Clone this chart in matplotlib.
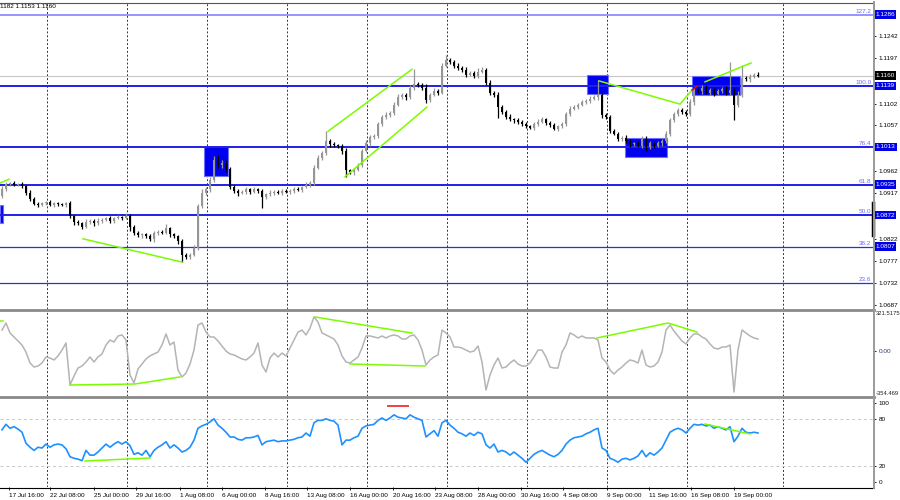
import numpy as np
import matplotlib.pyplot as plt
from matplotlib.lines import Line2D
from matplotlib.patches import Rectangle

plt.rcParams['font.family'] = ['Liberation Sans', 'DejaVu Sans']

# H4 candles, prices in pips above 1.0000 (938 -> 1.0938), open = previous close
first_open = 912
closes = [925, 936, 938, 935, 936, 932, 918, 905, 895, 893,
          896, 898, 893, 896, 894, 893, 896, 870, 858, 855,
          848, 858, 860, 855, 860, 862, 866, 860, 866, 868,
          866, 870, 848, 835, 830, 832, 828, 822, 834, 838,
          836, 845, 832, 828, 818, 790, 786, 790, 805, 890,
          918, 925, 945, 985, 975, 980, 968, 930, 922, 918,
          920, 925, 920, 925, 922, 910, 915, 918, 920, 918,
          922, 920, 922, 925, 924, 930, 935, 938, 970, 990,
          1000, 1025, 1018, 1016, 1014, 1005, 965, 960, 966, 975,
          1005, 1020, 1033, 1035, 1060, 1075, 1078, 1082, 1100, 1115,
          1120, 1115, 1135, 1142, 1140, 1135, 1110, 1120, 1128, 1125,
          1180, 1192, 1188, 1180, 1175, 1172, 1162, 1165, 1160, 1168,
          1172, 1145, 1125, 1120, 1095, 1085, 1075, 1070, 1068, 1064,
          1060, 1055, 1052, 1060, 1065, 1070, 1062, 1058, 1050, 1055,
          1060, 1080, 1092, 1096, 1100, 1105, 1108, 1112, 1115, 1120,
          1078, 1075, 1045, 1040, 1030, 1032, 1025, 1018, 1020, 1015,
          1030, 1012, 1020, 1015, 1020, 1025, 1040, 1068, 1080, 1088,
          1085, 1080, 1105, 1130, 1128, 1135, 1125, 1130, 1122, 1128,
          1132, 1125, 1130, 1100, 1120, 1155, 1152, 1158, 1162, 1160]
up_wick = [6, 4, 3, 5, 3, 4, 3, 5, 4, 3,
           4, 3, 5, 3, 4, 3, 4, 5, 3, 4,
           3, 5, 4, 3, 6, 4, 3, 5, 3, 4,
           3, 6, 4, 3, 5, 4, 3, 4, 5, 3,
           4, 8, 3, 4, 3, 5, 4, 3, 6, 5,
           8, 4, 6, 8, 10, 5, 6, 4, 5, 3,
           4, 5, 3, 4, 3, 4, 3, 5, 3, 4,
           3, 4, 3, 5, 4, 3, 5, 4, 6, 5,
           5, 20, 4, 5, 3, 4, 5, 3, 4, 5,
           4, 6, 5, 4, 5, 4, 6, 4, 5, 6,
           4, 5, 5, 31, 5, 4, 8, 5, 6, 4,
           6, 10, 5, 4, 5, 4, 6, 5, 4, 8,
           5, 4, 6, 4, 6, 5, 4, 5, 3, 4,
           4, 5, 3, 4, 5, 4, 3, 5, 4, 3,
           5, 4, 5, 4, 3, 5, 4, 5, 4, 31,
           5, 4, 3, 5, 4, 3, 5, 4, 3, 4,
           6, 5, 4, 3, 5, 4, 6, 5, 4, 5,
           5, 4, 6, 5, 4, 5, 6, 4, 5, 4,
           5, 6, 58, 4, 8, 27, 5, 6, 4, 5]
dn_wick = [5, 4, 3, 4, 3, 4, 5, 4, 3, 4,
           3, 4, 3, 5, 4, 3, 4, 5, 6, 4,
           5, 3, 4, 5, 3, 4, 3, 4, 5, 3,
           4, 3, 8, 5, 4, 5, 3, 4, 5, 4,
           3, 4, 5, 4, 6, 15, 5, 4, 3, 6,
           4, 5, 6, 4, 5, 6, 8, 5, 4, 6,
           3, 4, 5, 3, 4, 23, 4, 3, 4, 3,
           4, 3, 5, 4, 3, 4, 3, 5, 4, 3,
           4, 3, 5, 4, 3, 6, 15, 4, 5, 3,
           4, 3, 5, 4, 3, 4, 5, 3, 4, 3,
           4, 5, 3, 4, 4, 5, 6, 4, 3, 5,
           4, 3, 5, 4, 3, 5, 4, 3, 5, 4,
           3, 5, 6, 4, 23, 5, 4, 3, 5, 4,
           5, 4, 3, 5, 4, 3, 5, 4, 3, 4,
           4, 5, 3, 4, 5, 3, 4, 4, 3, 5,
           6, 5, 4, 3, 5, 6, 4, 5, 4, 3,
           5, 8, 4, 5, 3, 6, 4, 5, 3, 4,
           5, 4, 3, 5, 4, 6, 4, 5, 4, 3,
           4, 5, 6, 32, 5, 4, 3, 5, 4, 3]

cci = [170, 226, 147, 115, 83, 51, -5, -92, -124, -116,
       -92, -44, -52, -68, -36, 11, 67, -267, -196, -132,
       -116, -84, -44, -84, -44, -20, 51, 91, 75, 123,
       131, 91, -188, -251, -140, -100, -60, -36, -20, -5,
       51, 139, 51, 75, -148, -203, -172, -100, 11, 210,
       226, 154, 115, 115, 83, 43, 3, -20, -28, -44,
       -60, -68, -44, -13, 67, -108, -164, -52, -13, -44,
       -13, -36, 27, 91, 154, 170, 131, 186, 274, 234,
       147, 131, 115, 99, 51, -36, -84, -92, -68, -44,
       27, 123, 123, 115, 107, 123, 107, 123, 131, 123,
       99, 99, 123, 131, 91, 11, -108, -68, -44, -28,
       170, 147, 115, 35, 35, 27, 11, -5, 3, 43,
       -84, -307, -188, -108, -52, -132, -124, -92, -68, -100,
       -116, -116, -92, -44, 11, 11, -44, -124, -132, -132,
       -5, 51, 147, 131, 107, 123, 107, 107, 107, 91,
       -52, -84, -148, -180, -148, -124, -92, -68, -76, -92,
       11, -108, -124, -116, -84, -5, 170, 210, 162, 123,
       83, 59, 107, 139, 139, 115, 99, 59, 27, 19,
       35, 35, 51, -323, 11, 170, 147, 123, 107, 99]

rsi = [66, 73, 68, 70, 67, 63, 49, 44, 40, 44,
       43, 48, 44, 47, 48, 47, 42, 32, 30, 29,
       27, 40, 34, 34, 38, 43, 48, 44, 48, 51,
       48, 51, 46, 35, 37, 34, 40, 32, 40, 44,
       47, 51, 43, 47, 43, 38, 40, 44, 53, 68,
       71, 73, 76, 80, 72, 68, 63, 57, 57, 54,
       53, 56, 56, 57, 59, 47, 51, 52, 53, 51,
       52, 52, 53, 54, 56, 57, 62, 58, 75, 78,
       78, 80, 78, 77, 72, 47, 53, 53, 56, 58,
       68, 71, 72, 73, 78, 81, 78, 81, 85, 82,
       81, 80, 85, 82, 80, 78, 57, 61, 65, 58,
       75, 78, 72, 68, 63, 61, 58, 62, 59, 63,
       61, 47, 43, 48, 38, 40, 38, 34, 38, 34,
       30, 25, 30, 35, 38, 40, 37, 34, 32, 35,
       40, 48, 53, 56, 57, 58, 61, 63, 66, 68,
       43, 40, 30, 28, 25, 29, 30, 28, 30, 33,
       40, 32, 37, 34, 38, 43, 53, 63, 66, 68,
       66, 62, 68, 73, 72, 73, 71, 72, 68, 70,
       68, 66, 70, 51, 58, 68, 63, 62, 63, 62]

fib_levels = [1.1286, 1.1139, 1.1013, 1.0935, 1.0872, 1.0807, 1.0732]
fib_names = ['127.2', '100.0', '76.4', '61.8', '50.0', '38.2', '23.6']
boxed_levels = [1.1286, 1.1139, 1.1013, 1.0935, 1.0872, 1.0807]
price_ticks = [1.1242, 1.1197, 1.1102, 1.1057, 1.0962, 1.0917,
               1.0822, 1.0777, 1.0732, 1.0687]
last_price = 1.1160
header = '1182 1.1153 1.1160'

date_labels = ['17 Jul 16:00', '22 Jul 08:00', '25 Jul 00:00', '29 Jul 16:00',
               '1 Aug 08:00', '6 Aug 00:00', '8 Aug 16:00', '13 Aug 08:00',
               '16 Aug 00:00', '20 Aug 16:00', '23 Aug 08:00', '28 Aug 00:00',
               '30 Aug 16:00', '4 Sep 08:00', '9 Sep 00:00', '11 Sep 16:00',
               '16 Sep 08:00', '19 Sep 00:00']
date_bars = [1.75, 12, 23, 33.5, 44.5, 55, 65.75, 76.25, 87, 97.75,
             108.25, 119, 129.75, 140.25, 151.25, 161.75, 172.25, 183]
grid_bars = [11.2, 31.2, 51.2, 71.2, 91.2, 111.2, 131.2, 151.2, 171.2, 195.2]

# blue zones: (bar from, bar to, low, high)
zones = [(-0.5, 0.25, 1.0856, 1.0893),
         (50.5, 56.5, 1.0953, 1.1013),
         (146.25, 151.5, 1.1122, 1.1161),
         (155.75, 166.25, 1.0992, 1.1031),
         (172.5, 184.5, 1.1120, 1.1159)]

# green divergence / channel lines on price
price_lines = [([-0.5, 1.75], [1.0938, 1.0946]),
               ([20.25, 45.0], [1.0823, 1.0775]),
               ([81.5, 102.5], [1.1045, 1.1173]),
               ([85.75, 106.25], [1.0951, 1.1095]),
               ([149.25, 169.5, 172.5], [1.1149, 1.1101, 1.1130]),
               ([175.75, 187.25], [1.1147, 1.1186])]
red_price_line = ([172.5, 173.75], [1.1130, 1.1138])
cci_lines = [([-0.5, 0.25], [242, 242]),
             ([17.0, 33.25, 44.5], [-267, -259, -203]),
             ([78.25, 102.5], [274, 146]),
             ([87.0, 105.75], [-100, -116]),
             ([148.75, 166.5, 173.75], [107, 226, 154])]
rsi_lines = [([20.75, 37.0], [26.6, 30.4]),
             ([175.75, 187.0], [73.4, 60.8])]
rsi_red = ([96.5, 101.5], [96.2, 96.2])

W, H = 900, 500
fig = plt.figure(figsize=(9, 5), dpi=100)


def px_axes(x0, y0, x1, y1):
    a = fig.add_axes([x0 / W, 1 - y1 / H, (x1 - x0) / W, (y1 - y0) / H])
    for s in a.spines.values():
        s.set_visible(False)
    a.set_xlim(-0.5, 217.75)
    return a


ax = px_axes(0, 3, 873, 309)
ax_cci = px_axes(0, 311, 873, 396)
ax_rsi = px_axes(0, 398, 873, 487)

green = '#7cfc00'
grid_col = '#333333'
lab = 4.6

# ---- price panel ----
x = np.arange(len(closes))
c = 1 + np.array(closes) / 1e4
o = 1 + np.array([first_open] + closes[:-1]) / 1e4
hi = np.maximum(o, c) + np.array(up_wick) / 1e4
lo = np.minimum(o, c) - np.array(dn_wick) / 1e4
col = np.where(c > o, '#969696', '#000000')

ax.set_ylim(1.06781, 1.13098)
for g in grid_bars:
    ax.axvline(g, color=grid_col, lw=0.7, ls=(0, (2, 2)), zorder=1)
for (x0, x1, y0, y1) in zones:
    ax.add_patch(Rectangle((x0, y0), x1 - x0, y1 - y0, fc='#0000f0',
                           ec='#7070ff', lw=0.8, zorder=2))
ax.axhline(last_price, color='#c8c8c8', lw=0.8, zorder=1)
for lvl, name in zip(fib_levels, fib_names):
    if name == '127.2':
        colr, lw = '#8c8cff', 1.3
    elif name in ('38.2', '23.6'):
        colr, lw = '#3030d8', 0.9
    else:
        colr, lw = '#2020e6', 1.4
    ax.axhline(lvl, color=colr, lw=lw, zorder=2)
    ax.text(0.998, lvl + 0.00012, name, transform=ax.get_yaxis_transform(),
            ha='right', va='bottom', fontsize=lab, color='#6a6aff', zorder=6)

ax.vlines(x, lo, hi, colors=col, lw=0.9, zorder=3)
ax.bar(x, np.maximum(np.abs(c - o), 0.00006), bottom=np.minimum(o, c),
       width=0.72, color=col, zorder=4)

for xs, ys in price_lines:
    ax.plot(xs, ys, color=green, lw=1.1, zorder=5)
ax.plot(*red_price_line, color='#d01010', lw=1.1, zorder=5)

ax.yaxis.tick_right()
ax.set_yticks(price_ticks)
ax.set_yticklabels([f'{p:.4f}' for p in price_ticks])
ax.tick_params(axis='y', length=2.5, width=0.6, pad=1.5, labelsize=lab,
               colors='#000000')
ax.set_xticks([])
ytr = ax.get_yaxis_transform()
for lvl in boxed_levels:
    ax.text(1.0025, lvl, f'{lvl:.4f}', transform=ytr, ha='left', va='center',
            fontsize=lab, color='white', clip_on=False, zorder=10,
            bbox=dict(boxstyle='square,pad=0.25', fc='#0000e8', ec='none'))
ax.text(1.0025, last_price, f'{last_price:.4f}', transform=ytr, ha='left',
        va='center', fontsize=lab, color='white', clip_on=False, zorder=10,
        bbox=dict(boxstyle='square,pad=0.25', fc='#000000', ec='none'))
ax.plot([1.0, 1.0], [1.0831, 1.0897], transform=ytr, color='black', lw=2.5,
        clip_on=False, zorder=9)
ax.text(0.0, 0.997, header, transform=ax.transAxes, ha='left', va='top',
        fontsize=lab, color='#000000')

# ---- CCI panel ----
ax_cci.set_ylim(-354.469, 321.5175)
for g in grid_bars:
    ax_cci.axvline(g, color=grid_col, lw=0.7, ls=(0, (2, 2)), zorder=1)
ax_cci.plot(x, cci, color='#b4b4b4', lw=1.1, zorder=3)
for xs, ys in cci_lines:
    ax_cci.plot(xs, ys, color=green, lw=1.1, zorder=4)
ax_cci.set_xticks([])
ax_cci.yaxis.tick_right()
ax_cci.set_yticks([0])
ax_cci.set_yticklabels(['0.00'])
ax_cci.tick_params(axis='y', length=2.5, width=0.6, pad=1.5, labelsize=lab,
                   labelcolor='#2a3a6a')
ctr = ax_cci.get_yaxis_transform()
ax_cci.text(1.0027, 321.5175, '321.5175', transform=ctr, ha='left', va='top',
            fontsize=4.2, color='#222222', clip_on=False)
ax_cci.text(1.0027, -354.469, '-354.469', transform=ctr, ha='left', va='bottom',
            fontsize=4.2, color='#222222', clip_on=False)

# ---- RSI panel ----
ax_rsi.set_ylim(-6.3, 106.3)
for g in grid_bars:
    ax_rsi.axvline(g, color=grid_col, lw=0.7, ls=(0, (2, 2)), zorder=1)
for lvl in (80, 20):
    ax_rsi.axhline(lvl, color='#c8c8c8', lw=0.7, ls=(0, (3, 3)), zorder=1)
ax_rsi.plot(x, rsi, color='#1e90ff', lw=1.2, zorder=3)
for xs, ys in rsi_lines:
    ax_rsi.plot(xs, ys, color=green, lw=1.1, zorder=4)
ax_rsi.plot(*rsi_red, color='#f04040', lw=1.4, zorder=4)
ax_rsi.yaxis.tick_right()
ax_rsi.set_yticks([0, 20, 80, 100])
ax_rsi.set_yticklabels(['0', '20', '80', '100'])
ax_rsi.tick_params(axis='y', length=2.5, width=0.6, pad=1.5, labelsize=lab,
                   colors='#000000')
ax_rsi.set_xticks(date_bars)
ax_rsi.set_xticklabels(date_labels)
for t in ax_rsi.get_xticklabels():
    t.set_ha('left')
ax_rsi.tick_params(axis='x', length=2.5, width=0.6, pad=1.5, labelsize=lab,
                   colors='#000000')

# ---- frame lines ----
def hline_px(y, x0, x1, color, lw):
    fig.add_artist(Line2D([x0 / W, x1 / W], [1 - y / H, 1 - y / H],
                          transform=fig.transFigure, color=color, lw=lw))


hline_px(2.5, 0, 873, '#555555', 0.8)
hline_px(310, 0, 874, '#8a8a8a', 2.0)
hline_px(397, 0, 874, '#8a8a8a', 2.0)
hline_px(487.5, 0, 874, '#000000', 0.8)
fig.add_artist(Line2D([873.5 / W, 873.5 / W], [1 - 2 / H, 1 - 488 / H],
                      transform=fig.transFigure, color='#9a9a9a', lw=1.4))

fig.savefig('out.png', dpi=100)
